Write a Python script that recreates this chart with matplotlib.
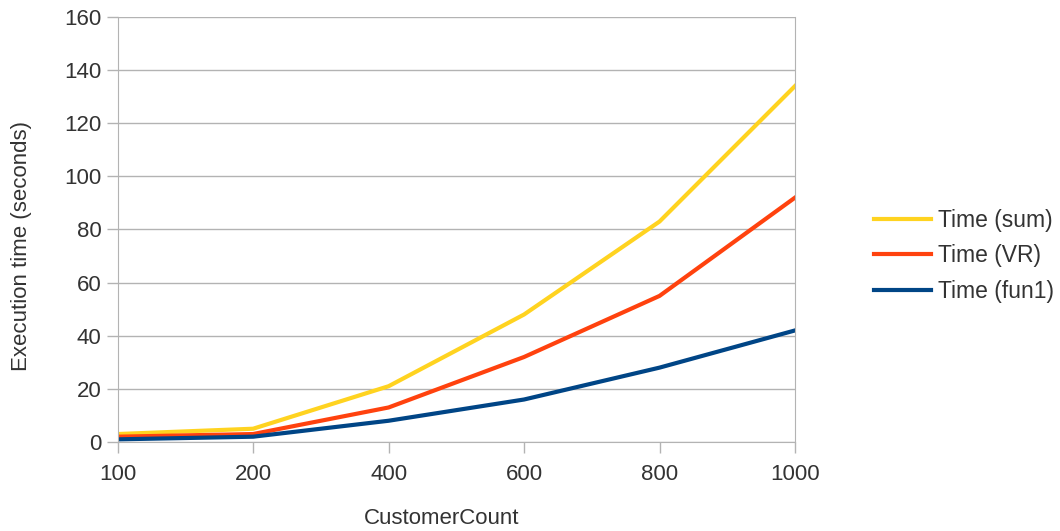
import matplotlib.pyplot as plt
import numpy as np

plt.rcParams['font.family'] = ['Liberation Sans', 'DejaVu Sans']

# Data
customer_count = ['100', '200', '400', '600', '800', '1000']
time_sum = [3, 5, 21, 48, 83, 134]
time_vr = [2, 3, 13, 32, 55, 92]
time_fun1 = [1, 2, 8, 16, 28, 42]

fig = plt.figure(figsize=(10.6, 5.31), dpi=100)
ax = fig.add_axes([0.111, 0.1676, 0.639, 0.8004])

x = np.arange(len(customer_count))
ax.plot(x, time_sum, color='#FFD320', lw=3, label='Time (sum)')
ax.plot(x, time_vr, color='#FF420E', lw=3, label='Time (VR)')
ax.plot(x, time_fun1, color='#004586', lw=3, label='Time (fun1)')

ax.set_xlim(0, len(customer_count) - 1)
ax.set_ylim(0, 160)
ax.set_yticks(range(0, 161, 20))
ax.set_xticks(x)
ax.set_xticklabels(customer_count)
ax.grid(axis='y', color='#b3b3b3', lw=1)
ax.set_axisbelow(True)
ax.spines['top'].set_visible(False)
for s in ['left', 'bottom', 'right']:
    ax.spines[s].set_color('#b3b3b3')
ax.tick_params(colors='#b3b3b3', labelcolor='#333333', labelsize=16, length=8, width=1)
ax.tick_params(axis='x', pad=8)

ax.set_xlabel('CustomerCount', fontsize=16, color='#333333', labelpad=18)
ax.xaxis.set_label_coords(0.479, -0.155)
ax.set_ylabel('Execution time (seconds)', fontsize=16, color='#333333')
ax.yaxis.set_label_coords(-0.127, 0.46)

fig.legend(loc='center left', bbox_to_anchor=(0.805, 0.518), frameon=False,
           fontsize=16.5, handlelength=2.5, handletextpad=0.3, labelspacing=0.55,
           labelcolor='#333333')

fig.savefig('out.png', dpi=100)
